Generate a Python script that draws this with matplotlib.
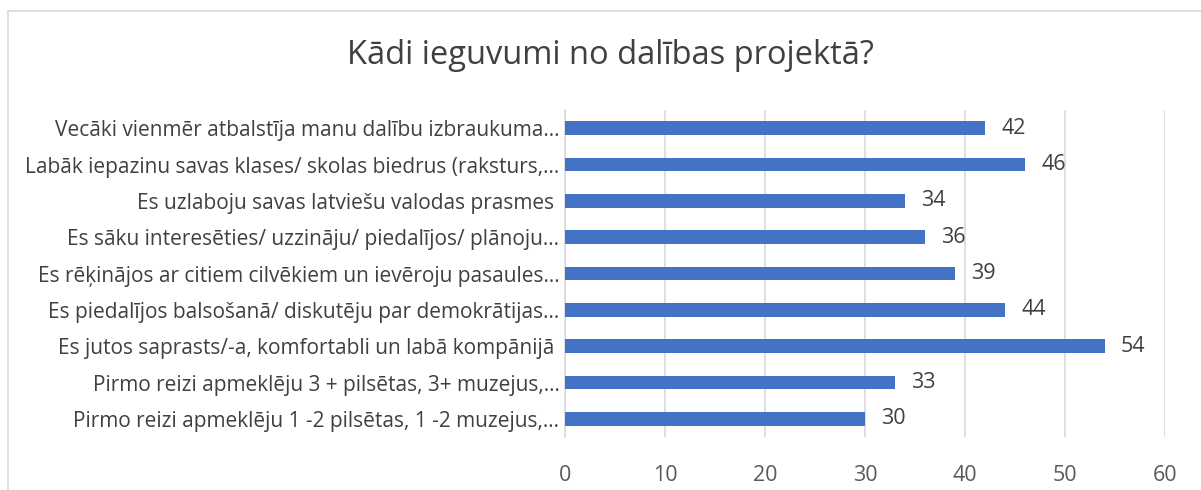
import matplotlib.pyplot as plt
from matplotlib.patches import Rectangle

plt.rcParams['font.family'] = ['Open Sans', 'DejaVu Sans']

title = "Kādi ieguvumi no dalības projektā?"
labels = [
    "Vecāki vienmēr atbalstīja manu dalību izbraukuma...",
    "Labāk iepazinu savas klases/ skolas biedrus (raksturs,...",
    "Es uzlaboju savas latviešu valodas prasmes ",
    "Es sāku interesēties/ uzzināju/ piedalījos/ plānoju...",
    "Es rēķinājos ar citiem cilvēkiem un ievēroju pasaules...",
    "Es piedalījos balsošanā/ diskutēju par demokrātijas...",
    "Es jutos saprasts/-a, komfortabli un labā kompānijā ",
    "Pirmo reizi apmeklēju 3 + pilsētas, 3+ muzejus,...",
    "Pirmo reizi apmeklēju 1 -2 pilsētas, 1 -2 muzejus,...",
]
values = [42, 46, 34, 36, 39, 44, 54, 33, 30]
xticks = [0, 10, 20, 30, 40, 50, 60]

fig = plt.figure(figsize=(12.01, 4.9), dpi=100)
ax = fig.add_axes([565 / 1201, 1 - 437 / 490, 600 / 1201, 327 / 490])

pos = list(range(len(values)))[::-1]
ax.barh(pos, values, height=0.37, color='#4472c4', zorder=3)
for p, v in zip(pos, values):
    ax.text(v + 1.6, p, str(v), va='center', ha='left', fontsize=15.5, color='#404040')

ax.set_xlim(0, 60)
ax.set_ylim(-0.5, len(values) - 0.5)
ax.set_xticks(xticks)
ax.set_yticks(pos)
ax.set_yticklabels(labels)
ax.tick_params(axis='y', length=0, pad=4, labelsize=15, labelcolor='#404040')
ax.tick_params(axis='x', length=0, pad=20, labelsize=15.5, labelcolor='#595959')
ax.grid(axis='x', color='#d9d9d9', linewidth=1.2, zorder=0)
for s in ['top', 'right', 'bottom']:
    ax.spines[s].set_visible(False)
ax.spines['left'].set_color('#d9d9d9')
ax.spines['left'].set_linewidth(1.2)

fig.text(0.508, 1 - 56 / 490, title, ha='center', va='center', fontsize=23.5, color='#404040')

fig.patches.append(Rectangle((8 / 1201, -0.1), 1.0, 1.1 - 11 / 490,
                             transform=fig.transFigure, fill=False,
                             edgecolor='#d9d9d9', linewidth=1.2))

fig.savefig('out.png', dpi=100)
